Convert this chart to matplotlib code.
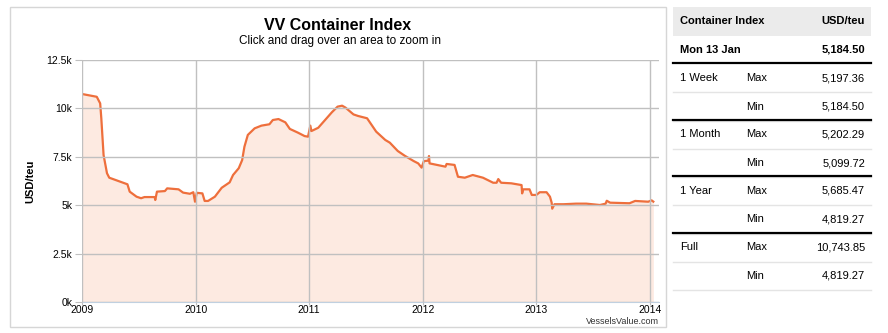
import matplotlib
matplotlib.use("Agg")
import matplotlib.pyplot as plt
from matplotlib.patches import Rectangle
from matplotlib.lines import Line2D

plt.rcParams['font.family'] = ['Liberation Sans', 'DejaVu Sans']

# VV container index (decimal year, USD/teu)
years = [2009.00, 2009.13, 2009.16, 2009.17, 2009.19, 2009.22, 2009.24, 2009.40,
         2009.42, 2009.48, 2009.52, 2009.55, 2009.64, 2009.645, 2009.66, 2009.73,
         2009.75, 2009.85, 2009.89, 2009.95, 2009.98, 2009.995, 2010.01, 2010.06,
         2010.08, 2010.11, 2010.17, 2010.23, 2010.30, 2010.33, 2010.38, 2010.41,
         2010.43, 2010.46, 2010.52, 2010.58, 2010.65, 2010.68, 2010.73, 2010.79,
         2010.83, 2010.90, 2010.96, 2010.99, 2011.01, 2011.02, 2011.08, 2011.14,
         2011.20, 2011.25, 2011.29, 2011.32, 2011.39, 2011.43, 2011.51, 2011.59,
         2011.67, 2011.71, 2011.78, 2011.84, 2011.92, 2011.96, 2011.99, 2012.01,
         2012.05, 2012.055, 2012.06, 2012.20, 2012.21, 2012.28, 2012.31, 2012.37,
         2012.44, 2012.53, 2012.62, 2012.65, 2012.665, 2012.69, 2012.78, 2012.87,
         2012.875, 2012.885, 2012.94, 2012.96, 2013.00, 2013.03, 2013.09, 2013.12,
         2013.135, 2013.14, 2013.16, 2013.24, 2013.35, 2013.44, 2013.56, 2013.61,
         2013.62, 2013.65, 2013.82, 2013.87, 2013.985, 2014.015, 2014.03]
values = [10744, 10600, 10260, 9490, 7590, 6650, 6420, 6080,
          5700, 5440, 5360, 5420, 5420, 5270, 5700, 5730,
          5870, 5820, 5650, 5590, 5670, 5180, 5640, 5610,
          5220, 5220, 5440, 5900, 6180, 6560, 6910, 7330,
          8020, 8630, 8970, 9110, 9180, 9400, 9450, 9280,
          8940, 8750, 8570, 8540, 9110, 8830, 9000, 9400,
          9800, 10090, 10140, 10040, 9690, 9610, 9490, 8800,
          8370, 8230, 7800, 7560, 7280, 7160, 6940, 7280,
          7300, 7540, 7160, 6990, 7130, 7080, 6470, 6420,
          6560, 6420, 6160, 6160, 6350, 6160, 6130, 6040,
          5610, 5820, 5820, 5530, 5530, 5670, 5670, 5440,
          5130, 4819, 5050, 5050, 5080, 5080, 5010, 5080,
          5230, 5130, 5100, 5220, 5180, 5250, 5185]

x_ticks = [2009, 2010, 2011, 2012, 2013, 2014]
y_ticks = [0, 2500, 5000, 7500, 10000, 12500]
y_labels = ['0k', '2.5k', '5k', '7.5k', '10k', '12.5k']

# side table
header = ['Container Index', 'USD/teu']
latest = ['Mon 13 Jan', '5,184.50']
periods = ['1 Week', '1 Month', '1 Year', 'Full']
max_vals = ['5,197.36', '5,202.29', '5,685.47', '10,743.85']
min_vals = ['5,184.50', '5,099.72', '4,819.27', '4,819.27']

W, H = 888, 333
fig = plt.figure(figsize=(W / 100, H / 100), dpi=100)


def fx(px):
    return px / W


def fy(py):
    return 1 - py / H


# chart frame
fig.patches.append(Rectangle((fx(10), fy(327)), fx(656), (327 - 7) / H,
                             transform=fig.transFigure, fill=False,
                             edgecolor='#d6d6d6', lw=1))

ax = fig.add_axes([fx(82), fy(302), fx(659 - 82), (302 - 60) / H])
line_c = '#ee6f3c'
ax.fill_between(years, values, 0, color='#fdeae1', lw=0)
ax.plot(years, values, color=line_c, lw=1.6)
ax.set_xlim(2009, 2014.08)
ax.set_ylim(0, 12500)
ax.set_xticks(x_ticks)
ax.set_xticklabels([str(y) for y in x_ticks])
ax.set_yticks(y_ticks)
ax.set_yticklabels(y_labels)
ax.grid(True, color='#c0c0c0', lw=1)
ax.set_axisbelow(False)
for s in ax.spines.values():
    s.set_visible(False)
ax.spines['bottom'].set_visible(True)
ax.spines['bottom'].set_color('#c0d0e0')
ax.tick_params(axis='y', length=5, color='#c0c0c0', labelsize=7.5, pad=2)
ax.tick_params(axis='x', length=2, color='#c0c0c0', labelsize=7.5, pad=0.5)
ax.set_ylabel('USD/teu', fontsize=8, fontweight='bold', labelpad=8)

fig.text(fx(338), fy(25), 'VV Container Index', ha='center', va='center',
         fontsize=11.5, fontweight='bold')
fig.text(fx(340), fy(41), 'Click and drag over an area to zoom in',
         ha='center', va='center', fontsize=8.5)
fig.text(fx(659), fy(321.5), 'VesselsValue.com', ha='right', va='center',
         fontsize=6.5, color='#333333')

# table
tl, tr = 673, 871
fig.patches.append(Rectangle((fx(tl), fy(36)), fx(tr - tl), 29 / H,
                             transform=fig.transFigure, color='#ebebeb', lw=0))
fs = 8
fig.text(fx(680), fy(21), header[0], ha='left', va='center', fontsize=fs,
         fontweight='bold')
fig.text(fx(865), fy(21), header[1], ha='right', va='center', fontsize=fs,
         fontweight='bold')
fig.text(fx(680), fy(50), latest[0], ha='left', va='center', fontsize=fs,
         fontweight='bold')
fig.text(fx(865), fy(50), latest[1], ha='right', va='center', fontsize=fs,
         fontweight='bold')

row0 = 78
step = 56.5
for i, p in enumerate(periods):
    y1 = row0 + i * step
    y2 = y1 + 28.5
    fig.text(fx(680), fy(y1), p, ha='left', va='center', fontsize=fs)
    fig.text(fx(746), fy(y1), 'Max', ha='left', va='center', fontsize=fs)
    fig.text(fx(865), fy(y1), max_vals[i], ha='right', va='center', fontsize=fs)
    fig.text(fx(746), fy(y2), 'Min', ha='left', va='center', fontsize=fs)
    fig.text(fx(865), fy(y2), min_vals[i], ha='right', va='center', fontsize=fs)
    # thick separator above, thin below each row
    fig.lines.append(Line2D([fx(tl), fx(tr)], [fy(y1 - 15)] * 2,
                            transform=fig.transFigure, color='black', lw=1.6))
    fig.lines.append(Line2D([fx(tl), fx(tr)], [fy(y1 + 14)] * 2,
                            transform=fig.transFigure, color='#e4e4e4', lw=1))
    fig.lines.append(Line2D([fx(tl), fx(tr)], [fy(y2 + 14)] * 2,
                            transform=fig.transFigure, color='#e4e4e4', lw=1))

fig.savefig('out.png', dpi=100)
